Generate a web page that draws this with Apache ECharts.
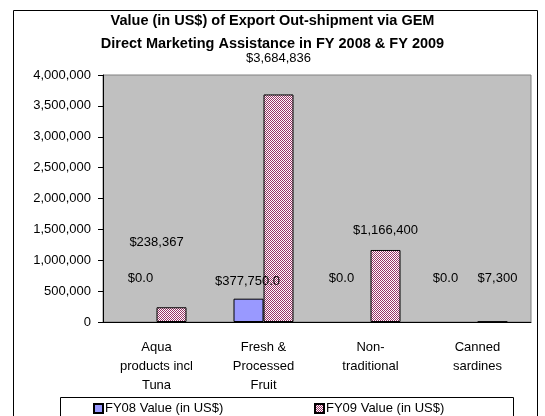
<!DOCTYPE html>
<html>
<head>
<meta charset="utf-8">
<script src="https://cdn.jsdelivr.net/npm/echarts@6/dist/echarts.min.js"></script>
<style>
  html, body { margin: 0; padding: 0; background: #fff; }
  #main { width: 545px; height: 416px; }
</style>
</head>
<body>
<div id="main"></div>
<script>
const categories = ['Aqua\nproducts incl\nTuna', 'Fresh &\nProcessed\nFruit', 'Non-\ntraditional', 'Canned\nsardines']
const fy08Values = [0, 377750, 0, 0]
const fy09Values = [238367, 3684836, 1166400, 7300]
const fy08Labels = ['$0.0', '$377,750.0', '$0.0', '$0.0']
const fy09Labels = ['$238,367', '$3,684,836', '$1,166,400', '$7,300']

const font = 'Liberation Sans, Arial, sans-serif'

// 标签偏移 (Excel里的标签位置有点乱)
const fy08Offsets = [[-1, -32], [-1, -6], [-14, -32], [-17, -32]]
const fy09Offsets = [[-15, -53], [0, -25], [0, -8], [5, -31]]

// 粉色格子图案
const pat = document.createElement('canvas')
pat.width = 2
pat.height = 2
const pctx = pat.getContext('2d')
pctx.fillStyle = '#ffffff'
pctx.fillRect(0, 0, 2, 2)
pctx.fillStyle = '#993366'
pctx.fillRect(0, 0, 1, 1)
pctx.fillRect(1, 1, 1, 1)

const myChart = echarts.init(document.getElementById('main'))

const makeData = (values, labels, offsets) => values.map((v, i) => ({
    value: v,
    // 0值不画边框
    itemStyle: v === 0 ? { borderWidth: 0 } : undefined,
    label: { formatter: labels[i], offset: offsets[i] }
}))

myChart.setOption({
    animation: false,
    textStyle: { fontFamily: font },
    title: {
        text: 'Value (in US$) of Export Out-shipment via GEM\nDirect Marketing Assistance in FY 2008 & FY 2009',
        left: 'center',
        top: 4,
        textStyle: { fontSize: 14.5, fontWeight: 'bold', color: '#000', lineHeight: 23, fontFamily: font }
    },
    graphic: [
        {
            type: 'rect',
            shape: { x: 13.5, y: 10.5, width: 524, height: 430 },
            style: { fill: null, stroke: '#000', lineWidth: 1 },
            z: -1
        },
        {
            type: 'rect',
            shape: { x: 60.5, y: 397.5, width: 453, height: 30 },
            style: { fill: '#fff', stroke: '#000', lineWidth: 1 }
        }
    ],
    legend: [
        {
            data: ['FY08 Value (in US$)'],
            left: 88,
            top: 397,
            icon: 'rect',
            itemWidth: 9,
            itemHeight: 9,
            textStyle: { fontSize: 13, color: '#000', fontFamily: font, padding: [0, 0, 0, -3] }
        },
        {
            data: ['FY09 Value (in US$)'],
            left: 309,
            top: 397,
            icon: 'rect',
            itemWidth: 9,
            itemHeight: 9,
            textStyle: { fontSize: 13, color: '#000', fontFamily: font, padding: [0, 0, 0, -3] }
        }
    ],
    grid: {
        left: 103,
        right: 14,
        top: 75,
        bottom: 94,
        show: true,
        backgroundColor: '#c0c0c0',
        borderColor: '#808080',
        borderWidth: 1
    },
    xAxis: {
        type: 'category',
        data: categories,
        axisLine: { lineStyle: { color: '#000' } },
        axisTick: { alignWithLabel: false, length: 5, lineStyle: { color: '#000' } },
        axisLabel: { fontSize: 13, color: '#000', lineHeight: 19, margin: 16, interval: 0 }
    },
    yAxis: {
        type: 'value',
        min: 0,
        max: 4000000,
        interval: 500000,
        splitLine: { show: false },
        axisLine: { show: true, lineStyle: { color: '#000' } },
        axisTick: { show: true, length: 5, lineStyle: { color: '#000' } },
        axisLabel: {
            fontSize: 13,
            color: '#000',
            margin: 12,
            formatter: v => v.toLocaleString('en-US')
        }
    },
    series: [
        {
            name: 'FY08 Value (in US$)',
            type: 'bar',
            barWidth: 30,
            barGap: '0%',
            itemStyle: { color: '#9999ff', borderColor: '#000', borderWidth: 1 },
            label: { show: true, position: 'top', distance: 5, fontSize: 13, color: '#000' },
            data: makeData(fy08Values, fy08Labels, fy08Offsets)
        },
        {
            name: 'FY09 Value (in US$)',
            type: 'bar',
            barWidth: 30,
            itemStyle: { color: { image: pat, repeat: 'repeat' }, borderColor: '#000', borderWidth: 1 },
            label: { show: true, position: 'top', distance: 5, fontSize: 13, color: '#000' },
            data: makeData(fy09Values, fy09Labels, fy09Offsets)
        }
    ]
})
</script>
</body>
</html>
